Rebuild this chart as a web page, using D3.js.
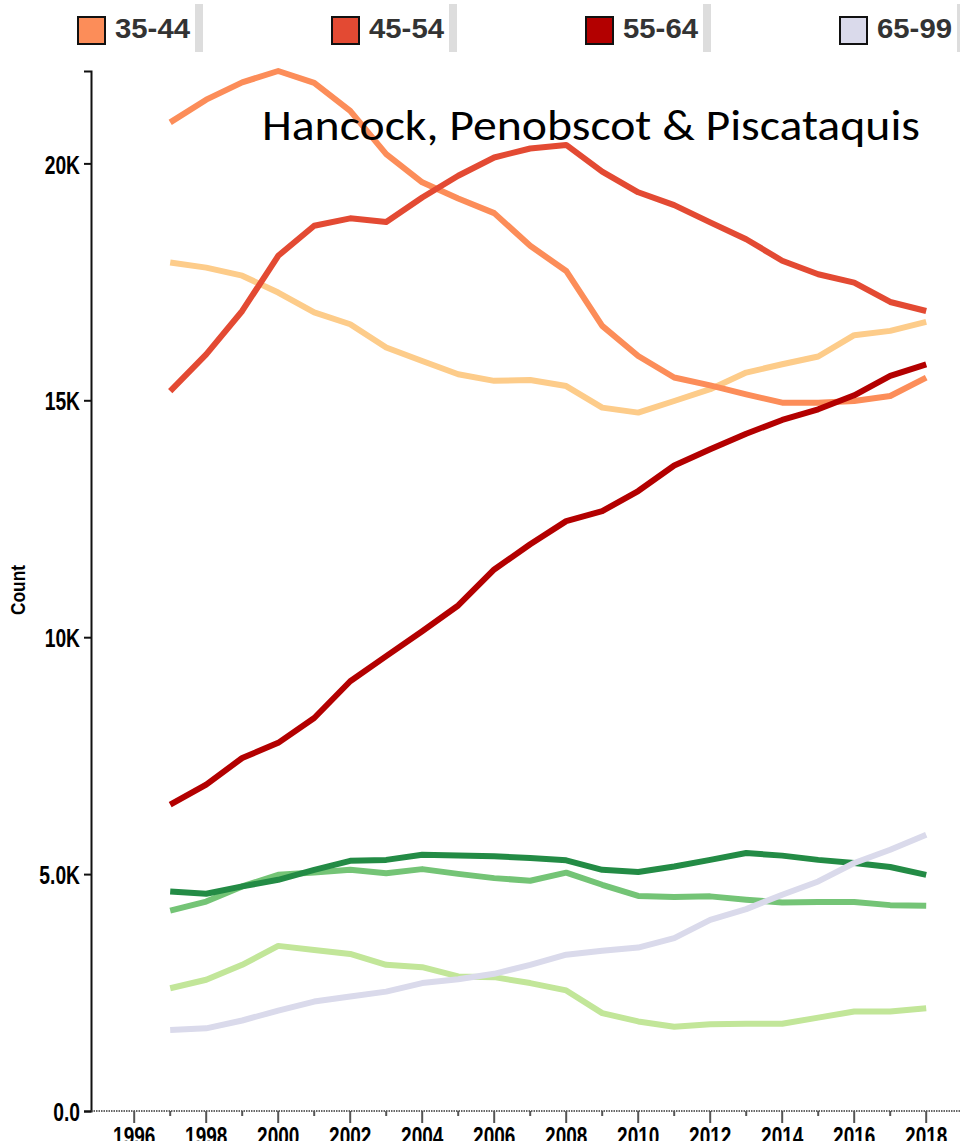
<!DOCTYPE html>
<html>
<head>
<meta charset="utf-8">
<script src="https://cdn.jsdelivr.net/npm/d3@7"></script>
<style>
  body { margin: 0; background: #fff; }
  svg { display: block; }
</style>
</head>
<body>
<script>
// Years on the x axis
var years = [1997, 1998, 1999, 2000, 2001, 2002, 2003, 2004, 2005, 2006, 2007,
             2008, 2009, 2010, 2011, 2012, 2013, 2014, 2015, 2016, 2017, 2018];

// Age groups (drawing order) and their colours
var groups = ["14-18", "19-21", "22-24", "25-34", "35-44", "45-54", "55-64", "65-99"];
var colors = ["#c2e699", "#74c476", "#238b45", "#fdcc8a", "#fc8d59", "#e34a33", "#b30000", "#dadaeb"];

// Counts per age group
var age14_18 = [2590, 2770, 3085, 3485, 3400, 3315, 3085, 3035, 2840, 2825, 2700,
                2545, 2065, 1890, 1780, 1830, 1840, 1840, 1970, 2100, 2100, 2170];
var age19_21 = [4230, 4420, 4740, 4985, 5035, 5090, 5020, 5105, 5005, 4915, 4860,
                5030, 4775, 4540, 4515, 4530, 4460, 4400, 4410, 4410, 4345, 4330];
var age22_24 = [4635, 4585, 4740, 4880, 5090, 5280, 5300, 5410, 5390, 5375, 5340,
                5290, 5090, 5045, 5160, 5300, 5445, 5390, 5300, 5235, 5150, 4985];
var age25_34 = [17910, 17800, 17630, 17275, 16855, 16605, 16115, 15830, 15550, 15410, 15430,
                15300, 14845, 14740, 14985, 15235, 15585, 15760, 15925, 16375, 16465, 16655];
var age35_44 = [20865, 21345, 21710, 21950, 21700, 21110, 20195, 19600, 19260, 18950, 18260,
                17730, 16570, 15935, 15480, 15315, 15125, 14950, 14950, 14985, 15090, 15480];
var age45_54 = [15195, 15970, 16885, 18050, 18685, 18840, 18765, 19280, 19740, 20125, 20315,
                20390, 19825, 19390, 19120, 18755, 18400, 17945, 17660, 17485, 17075, 16885];
var age55_64 = [6465, 6890, 7450, 7770, 8295, 9070, 9600, 10125, 10670, 11430, 11960,
                12450, 12660, 13085, 13625, 13965, 14295, 14585, 14810, 15105, 15515, 15760];
var age65_99 = [1710, 1745, 1910, 2120, 2310, 2415, 2520, 2700, 2780, 2895, 3085,
                3300, 3380, 3450, 3650, 4035, 4260, 4565, 4845, 5235, 5515, 5830];

// legend entries visible in the picture
var legendKeys = ["35-44", "45-54", "55-64", "65-99"];

var yTicks = [0, 5000, 10000, 15000, 20000];
var title = "Hancock, Penobscot & Piscataquis";

var allValues = [age14_18, age19_21, age22_24, age25_34, age35_44, age45_54, age55_64, age65_99];
var series = groups.map(function (g, i) {
    return { name: g, color: colors[i], values: allValues[i].map(function (v, j) { return { year: years[j], count: v }; }) };
});

var width = 960, height = 1141;
var svg = d3.select("body").append("svg")
    .attr("width", width)
    .attr("height", height);

// scales
var xScale = d3.scaleLinear()
    .domain([1994.8, 2020.2])
    .range([91, 91 + 25.4 * 36]);
var yScale = d3.scaleLinear()
    .domain([0, d3.max(allValues, function (s) { return d3.max(s); })])
    .range([1111, 71]);

// squeeze glyphs horizontally like the original
function squeeze(sel, k) {
    sel.attr("textLength", function () { return this.getComputedTextLength() * k; })
       .attr("lengthAdjust", "spacingAndGlyphs");
}

// y axis
var yAxis = d3.axisLeft(yScale)
    .tickValues(yTicks)
    .tickSize(7)
    .tickSizeOuter(7)
    .tickFormat(function (d) { return d3.format(".2s")(d).replace("k", "K"); });
var yg = svg.append("g")
    .attr("transform", "translate(91,0)")
    .call(yAxis);
yg.select(".domain").attr("stroke", "#111").attr("stroke-width", 2);
yg.selectAll(".tick line").attr("stroke", "#111").attr("stroke-width", 2);
yg.selectAll(".tick text")
    .attr("x", -11)
    .attr("dy", "0.37em")
    .attr("font-family", "'Liberation Sans', Arial, sans-serif")
    .attr("font-weight", "bold")
    .attr("font-size", 26)
    .attr("fill", "#000")
    .call(squeeze, 0.74);

// y label
svg.append("text")
    .attr("transform", "translate(25,590) rotate(-90)")
    .attr("text-anchor", "middle")
    .attr("font-family", "'Liberation Sans', Arial, sans-serif")
    .attr("font-weight", "bold")
    .attr("font-size", 21)
    .attr("fill", "#000")
    .text("Count")
    .attr("textLength", 50)
    .attr("lengthAdjust", "spacingAndGlyphs");

// x axis: dotted baseline, every year ticked, even years labelled
var xg = svg.append("g").attr("transform", "translate(0,1111)");
xg.append("line")
    .attr("x1", 91).attr("x2", width)
    .attr("stroke", "#333")
    .attr("stroke-width", 1.5)
    .attr("stroke-dasharray", "1.5,1");
var tickYears = d3.range(1996, 2020);
xg.selectAll("line.tk")
    .data(tickYears)
    .enter().append("line")
    .attr("class", "tk")
    .attr("x1", function (d) { return xScale(d); })
    .attr("x2", function (d) { return xScale(d); })
    .attr("y1", 0)
    .attr("y2", function (d) { return d % 2 === 0 ? 12 : 5; })
    .attr("stroke", "#555")
    .attr("stroke-width", 2);
xg.selectAll("text")
    .data(tickYears.filter(function (d) { return d % 2 === 0; }))
    .enter().append("text")
    .attr("x", function (d) { return xScale(d); })
    .attr("y", 34)
    .attr("text-anchor", "middle")
    .attr("font-family", "'Liberation Sans', Arial, sans-serif")
    .attr("font-weight", "bold")
    .attr("font-size", 26)
    .attr("fill", "#000")
    .text(function (d) { return d; })
    .call(squeeze, 0.73);

// lines
var line = d3.line()
    .x(function (d) { return xScale(d.year); })
    .y(function (d) { return yScale(d.count); });

svg.append("g").selectAll("path")
    .data(series)
    .enter().append("path")
    .attr("d", function (d) { return line(d.values); })
    .attr("fill", "none")
    .attr("stroke", function (d) { return d.color; })
    .attr("stroke-width", 6)
    .attr("stroke-linejoin", "round");

// title
svg.append("text")
    .attr("x", 262)
    .attr("y", 140)
    .attr("font-family", "Carlito, Lato, 'Open Sans', sans-serif")
    .attr("font-size", 43)
    .attr("fill", "#000")
    .text(title)
    .attr("textLength", 658)
    .attr("lengthAdjust", "spacingAndGlyphs");

// legend
var legend = svg.append("g").selectAll("g")
    .data(legendKeys)
    .enter().append("g")
    .attr("transform", function (d, i) { return "translate(" + (77 + i * 254) + ",0)"; });
legend.append("rect")
    .attr("x", 1).attr("y", 17)
    .attr("width", 27).attr("height", 27)
    .attr("fill", function (d) { return colors[groups.indexOf(d)]; })
    .attr("stroke", "#111")
    .attr("stroke-width", 2);
legend.append("text")
    .attr("x", 38)
    .attr("y", 38)
    .attr("font-family", "'Liberation Sans', Arial, sans-serif")
    .attr("font-weight", "bold")
    .attr("font-size", 27)
    .attr("fill", "#333")
    .text(function (d) { return d; })
    .attr("textLength", 75)
    .attr("lengthAdjust", "spacingAndGlyphs");
legend.append("rect")
    .attr("x", 118).attr("y", 4)
    .attr("width", 8).attr("height", 48)
    .attr("fill", "#ddd");
</script>
</body>
</html>
